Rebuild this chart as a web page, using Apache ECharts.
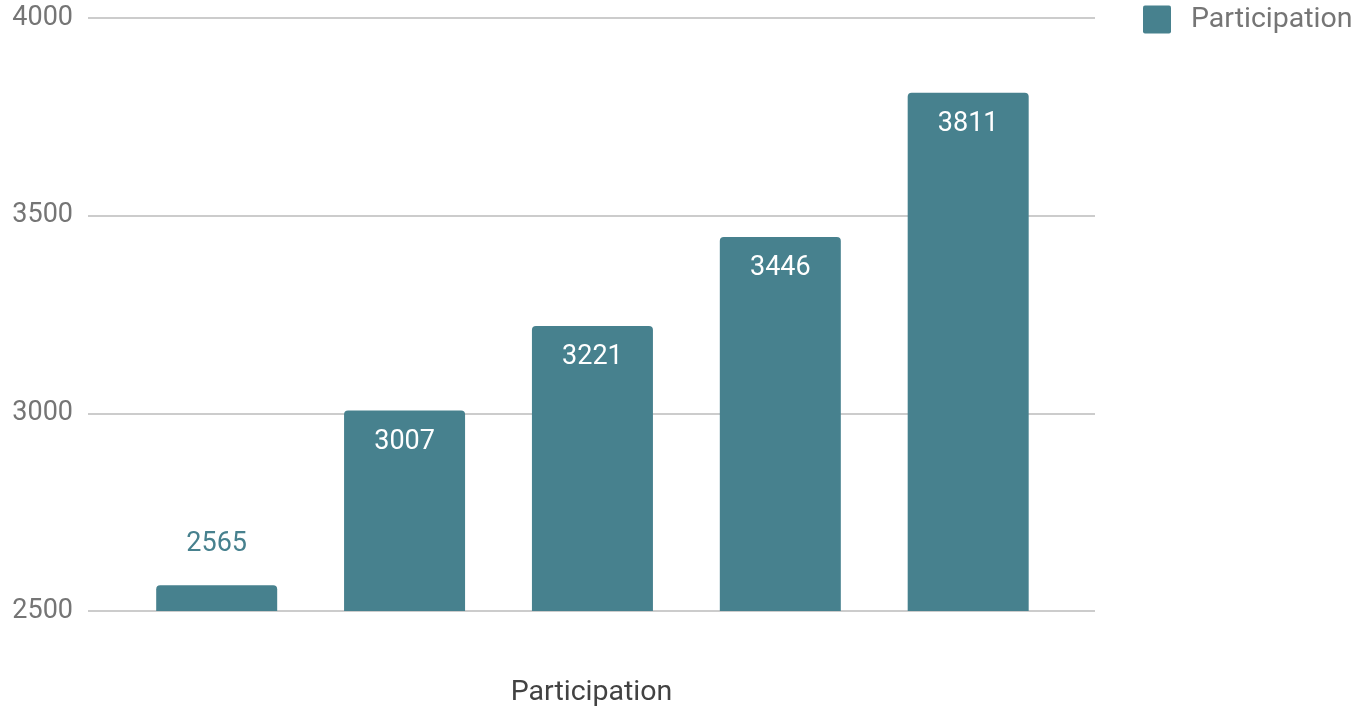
<!DOCTYPE html>
<html>
<head>
<meta charset="utf-8">
<script src="https://cdn.jsdelivr.net/npm/echarts@6/dist/echarts.min.js"></script>
<style>html,body{margin:0;padding:0;background:#fff}#c{width:1359px;height:708px}</style>
</head>
<body>
<div id="c"></div>
<script>
const seriesName = 'Participation';
const categories = [0, 1, 2, 3, 4];
const values = [2565, 3007, 3221, 3446, 3811];
const yTicks = [2500, 3000, 3500, 4000];

const color = '#47818e';
const font = 'Roboto';

const data = values.map((v, i) => {
  const item = { value: [categories[i], v] };
  if (i === 0) {
    item.label = { position: 'top', color: color, distance: 28 };
  }
  return item;
});

const chart = echarts.init(document.getElementById('c'), null, { renderer: 'canvas' });
chart.setOption({
  animation: false,
  textStyle: { fontFamily: font },
  grid: { left: 88, right: 264, top: 18, bottom: 97, containLabel: false, outerBoundsMode: 'none' },
  legend: {
    left: 1143, top: 5, padding: 0,
    itemWidth: 28, itemHeight: 28,
    icon: 'path://M2,0 H26 A2,2 0 0 1 28,2 V26 A2,2 0 0 1 26,28 H2 A2,2 0 0 1 0,26 V2 A2,2 0 0 1 2,0 Z',
    textStyle: { fontFamily: font, fontSize: 28.5, color: '#757575', padding: [2, 0, 0, 15] },
    data: [seriesName]
  },
  xAxis: {
    type: 'value',
    min: -0.685, max: 4.675,
    axisLine: { show: false }, axisTick: { show: false },
    axisLabel: { show: false }, splitLine: { show: false },
    name: seriesName, nameLocation: 'middle', nameGap: 67,
    nameTextStyle: { fontFamily: font, fontSize: 28.5, color: '#424242' }
  },
  yAxis: {
    type: 'value',
    min: yTicks[0], max: yTicks[yTicks.length - 1], interval: 500,
    axisLine: { show: false }, axisTick: { show: false },
    axisLabel: { fontFamily: font, fontSize: 27, color: '#757575', margin: 15, padding: [5, 0, 0, 0], formatter: v => String(v) },
    splitLine: { lineStyle: { color: '#cccccc', width: 2 } }
  },
  series: [{
    name: seriesName,
    type: 'bar',
    barWidth: 121,
    itemStyle: { color: color, borderRadius: [4, 4, 0, 0] },
    label: {
      show: true, position: 'insideTop', distance: 18,
      fontFamily: font, fontSize: 27, color: '#ffffff'
    },
    data: data
  }]
});
</script>
</body>
</html>
